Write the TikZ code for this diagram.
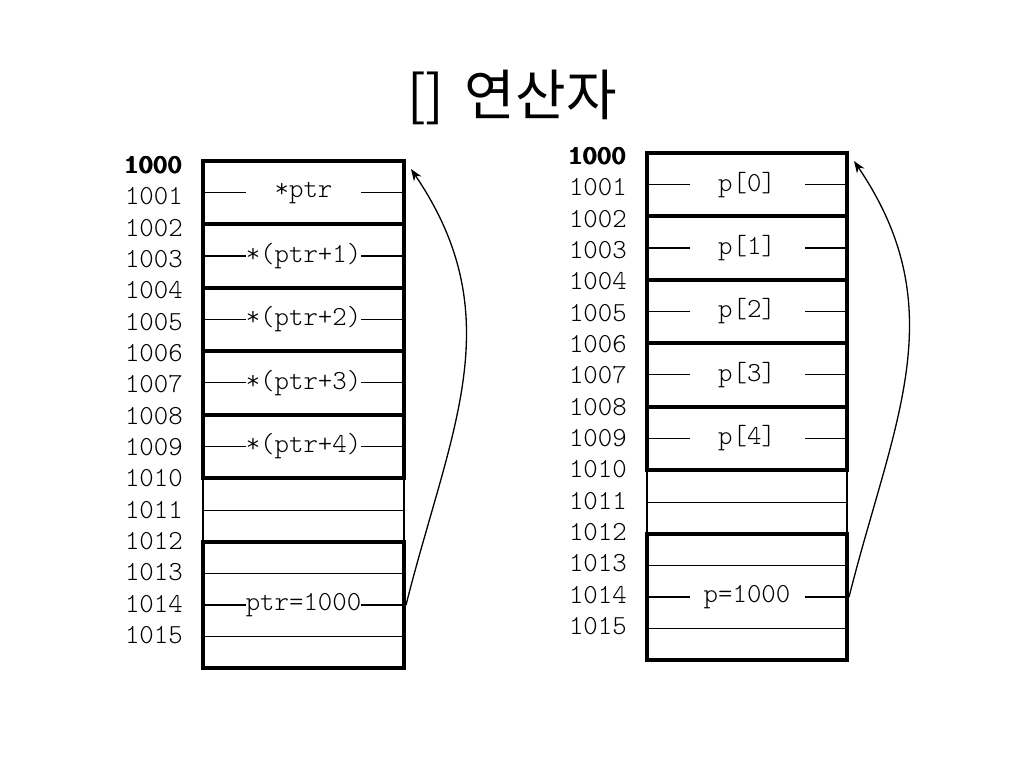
\documentclass[tikz,border=0pt]{standalone}
\usepackage{fontspec}
\newfontfamily\courfont{Latin Modern Mono Light}
\newfontfamily\krfont{Noto Sans CJK KR}
\newcommand\heavytext[1]{{\bfseries\rlap{\kern-0.8pt #1}\rlap{\kern-1.6pt #1}#1}}
\usetikzlibrary{arrows.meta}
\begin{document}
\begin{tikzpicture}[x=1pt,y=-1pt,
  blk/.style={draw,line width=4pt,minimum width=201pt,minimum height=63.38pt,inner sep=0pt},
  bigblk/.style={blk,minimum height=126.76pt},
  thinblk/.style={draw,line width=1.3pt,minimum width=201pt,minimum height=63.38pt,inner sep=0pt},
  thinln/.style={line width=1.3pt},
  lab/.style={fill=white,inner sep=0pt,minimum width=115pt,minimum height=20pt,font=\fontsize{27.5}{27.5}\selectfont\courfont},
  addr/.style={anchor=east,inner sep=0pt,font=\fontsize{27.5}{27.5}\selectfont\courfont},
  arr/.style={-{Stealth[length=12pt,width=9pt]},line width=1.3pt}]
\useasboundingbox (0,0) rectangle (1024,768);
\node[font=\krfont\fontsize{55}{55}\selectfont] (title) at (512,97) {[]\hspace{0.15em} 연산자};
% ---------- left ----------
\node[addr] (la0) at (183,165) {\heavytext{1000}};
\foreach \k in {1,...,15}{
  \pgfmathtruncatemacro\n{1000+\k}
  \node[addr] (la\k) at (183,{165+31.33*\k}) {\n};
}
\node[thinblk] (L5) at (303.5,510.4) {};
\draw[thinln] (L5.west) -- (L5.east);
\node[bigblk] (L6) at (303.5,605.1) {};
\draw[thinln] (203,573.4) -- (404,573.4);
\draw[thinln] (203,636.8) -- (404,636.8);
\draw[thinln] (L6.west) -- (L6.east);
\node[lab] (l6t) at (L6) {ptr=1000};
\foreach \i/\t in {0/*ptr,1/*(ptr+1),2/*(ptr+2),3/*(ptr+3),4/*(ptr+4)}{
  \node[blk] (L\i) at (303.5,{161+63.38*\i+31.69}) {};
  \draw[thinln] (L\i.west) -- (L\i.east);
  \node[lab] (l\i t) at (L\i) {\t};
}
\coordinate (ltip) at (411,169);
\draw[arr] (L6.east) .. controls +(44,-175) and +(101,149) .. (ltip);
% ---------- right ----------
\node[addr] (ra0) at (627,156) {\heavytext{1000}};
\foreach \k in {1,...,15}{
  \pgfmathtruncatemacro\n{1000+\k}
  \node[addr] (ra\k) at (627,{156+31.33*\k}) {\n};
}
\node[thinblk,minimum width=200pt] (R5) at (747,502.4) {};
\draw[thinln] (R5.west) -- (R5.east);
\node[bigblk,minimum width=200pt] (R6) at (747,597.1) {};
\draw[thinln] (647,565.4) -- (847,565.4);
\draw[thinln] (647,628.8) -- (847,628.8);
\draw[thinln] (R6.west) -- (R6.east);
\node[lab] (r6t) at (R6) {p=1000};
\foreach \i in {0,...,4}{
  \node[blk,minimum width=200pt] (R\i) at (747,{153+63.38*\i+31.69}) {};
  \draw[thinln] (R\i.west) -- (R\i.east);
  \node[lab] (r\i t) at (R\i) {p[\i]};
}
\coordinate (rtip) at (854,161);
\draw[arr] (R6.east) .. controls +(44,-175) and +(101,149) .. (rtip);
\end{tikzpicture}
\end{document}
